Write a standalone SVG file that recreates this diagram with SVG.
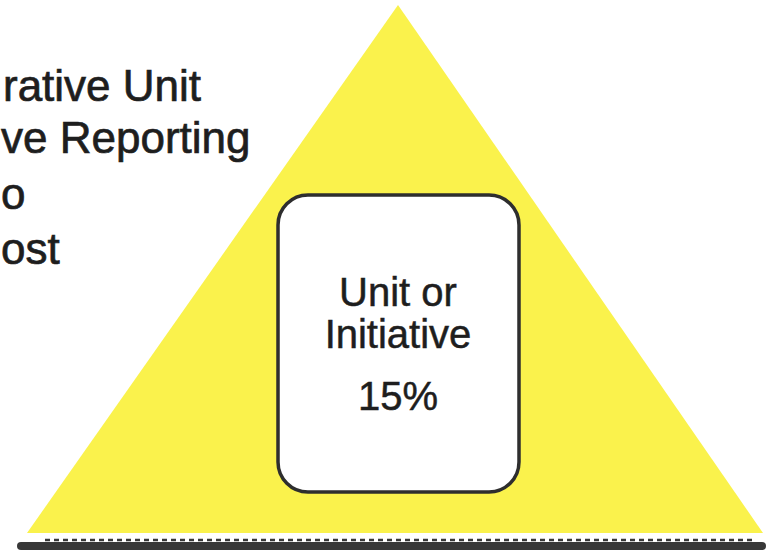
<svg xmlns="http://www.w3.org/2000/svg" width="769" height="554" viewBox="0 0 769 554">
<style>
.lbl{font-family:"Liberation Sans",Arial,sans-serif;fill:#1e1e1e;stroke:#1e1e1e;stroke-width:0.7px;}
.side{font-size:44px;}
.mid{font-size:40px;text-anchor:middle;stroke-width:0.5px;}
</style>
<rect x="0" y="0" width="769" height="554" fill="#ffffff"/>
<g id="side-text">
<text class="lbl side" x="3" y="101">rative Unit</text>
<text class="lbl side" x="1" y="153">ve Reporting</text>
<text class="lbl side" x="1" y="209">o</text>
<text class="lbl side" x="1" y="264">ost</text>
</g>
<g id="pyramid">
<polygon points="398,5 763,533 27,533" fill="#FAF24C"/>
</g>
<g id="base-bar">
<rect x="17" y="542" width="749" height="8" rx="4" fill="#383838"/>
<line x1="45" y1="540" x2="755" y2="540" stroke="#383838" stroke-width="2.5" stroke-dasharray="5,4"/>
</g>
<g id="unit-node">
<rect x="278" y="195" width="241" height="297" rx="30" fill="#ffffff" stroke="#2e2e2e" stroke-width="3.5"/>
<text class="lbl mid" x="398" y="306">Unit or</text>
<text class="lbl mid" x="398" y="348">Initiative</text>
<text class="lbl mid" x="398" y="410">15%</text>
</g>
</svg>
